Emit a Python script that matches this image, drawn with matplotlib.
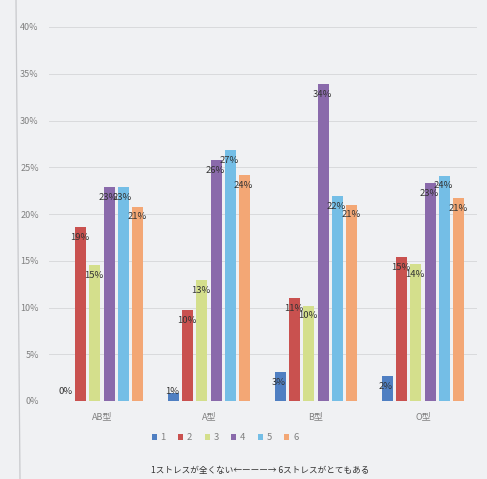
import numpy as np
import matplotlib
matplotlib.use("Agg")
import matplotlib.pyplot as plt
from matplotlib.lines import Line2D

plt.rcParams['font.family'] = ['Noto Sans CJK JP', 'DejaVu Sans']

# blood types on the x axis, stress level 1..6 as series
categories = ["AB型", "A型", "B型", "O型"]
levels = ["1", "2", "3", "4", "5", "6"]
values = {
    "1": [0.0, 0.9, 3.1, 2.7],
    "2": [18.6, 9.7, 11.0, 15.4],
    "3": [14.5, 12.9, 10.2, 14.6],
    "4": [22.9, 25.8, 33.9, 23.3],
    "5": [22.9, 26.8, 21.9, 24.1],
    "6": [20.8, 24.2, 21.0, 21.7],
}
labels = {
    "1": ["0%", "1%", "3%", "2%"],
    "2": ["19%", "10%", "11%", "15%"],
    "3": ["15%", "13%", "10%", "14%"],
    "4": ["23%", "26%", "34%", "23%"],
    "5": ["23%", "27%", "22%", "24%"],
    "6": ["21%", "24%", "21%", "21%"],
}
colors = ["#4f7fc2", "#c9514f", "#d4df8c", "#8a6aab", "#74bee6", "#f3a775"]
bg = "#f0f1f3"

fig = plt.figure(figsize=(4.87, 4.79), dpi=100, facecolor=bg)
ax = fig.add_axes([48.5 / 487, 1 - 401 / 479, 428 / 487, 374 / 479])
ax.set_facecolor(bg)

x = np.arange(len(categories))
width = 0.103
step = 0.134
for i, lev in enumerate(levels):
    pos = x + (i - 2.5) * step
    ax.bar(pos, values[lev], width, color=colors[i], label=lev, zorder=2)
    for px, v, t in zip(pos, values[lev], labels[lev]):
        ax.text(px - 0.01, max(v - 1.1, 1.0), t, ha='center', va='center',
                fontsize=6.8, color="#333333", zorder=3)

ax.set_xlim(-0.5, 3.5)
ax.set_ylim(0, 40)
ax.set_yticks(np.arange(0, 41, 5))
ax.set_yticklabels(["%d%%" % v for v in range(0, 41, 5)])
ax.set_xticks(x)
ax.set_xticklabels(categories)
ax.tick_params(axis='both', length=0, labelsize=6.5, labelcolor="#808080")
ax.tick_params(axis='y', pad=7)
ax.tick_params(axis='x', pad=8)
ax.grid(axis='y', color="#d9dadc", linewidth=0.7, zorder=0)
for s in ax.spines.values():
    s.set_visible(False)

fig.legend(loc='center', bbox_to_anchor=(225 / 487, 1 - 438 / 479), ncol=6,
           frameon=False, fontsize=6.8, handlelength=0.55, handleheight=0.55,
           handletextpad=0.4, columnspacing=1.3, labelcolor="#808080")

fig.text(260 / 487, 1 - 470 / 479,
         "1ストレスが全くない←ーーー→ 6ストレスがとてもある",
         ha='center', va='center', fontsize=6.2, color="#333333")

# page edge in the photo
fig.add_artist(Line2D([16 / 487, 20 / 487], [1.0, 0.0], color="#c8c9cc",
                      linewidth=0.9, transform=fig.transFigure))

fig.savefig("out.png", dpi=100, facecolor=bg)
